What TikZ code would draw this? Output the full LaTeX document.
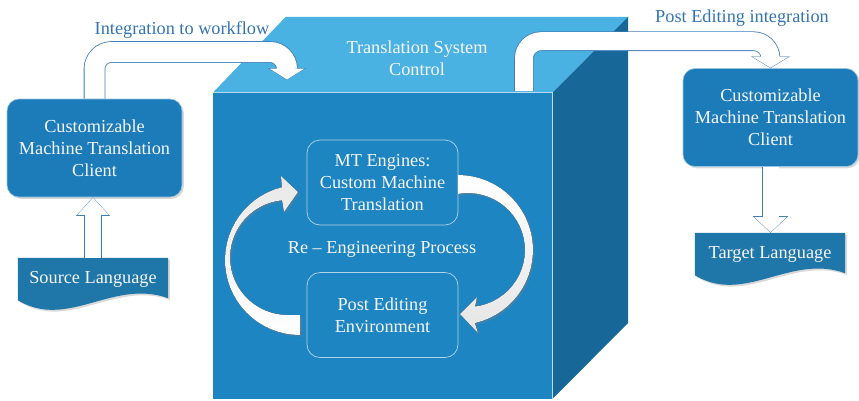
\documentclass[tikz,border=0pt]{standalone}
\usepackage{fontspec}
\setmainfont{Liberation Serif}
\usetikzlibrary{arrows.meta, calc, shadows, backgrounds}

\definecolor{cubefront}{RGB}{30,133,195}
\definecolor{cubetop}{RGB}{74,178,227}
\definecolor{cubeside}{RGB}{23,104,153}
\definecolor{clientblue}{RGB}{28,124,186}
\definecolor{docblue}{RGB}{31,118,169}
\definecolor{pipeedge}{RGB}{62,126,186}
\definecolor{labelblue}{RGB}{52,116,176}
\definecolor{paletext}{RGB}{246,246,246}

% one pixel of the drawing
\newdimen\dpx
\dpx=0.3mm

\tikzset{
  softshadow/.style={drop shadow={shadow xshift=1.5pt, shadow yshift=-1.5pt, opacity=0.3}},
  clientbox/.style={fill=clientblue, draw=white!55!clientblue, line width=0.5pt, rounded corners=12\dpx,
    minimum width=175\dpx, minimum height=98\dpx, align=center, text=paletext, softshadow},
  enginebox/.style={draw=white!65!cubefront, line width=0.6pt, rounded corners=13\dpx,
    minimum width=151\dpx, minimum height=85\dpx, align=center, text=paletext},
  doclabel/.style={minimum width=150\dpx, minimum height=42\dpx, text=paletext},
  toplabel/.style={text=labelblue},
  swirl/.style={softshadow},
  % hollow block arrow: shaft width (px), head width and head length as factors of the shaft
  pipe/.style n args={3}{
    preaction={draw=pipeedge, line width=#1\dpx+1.6\dpx, shorten >=0pt,
      -{Triangle[width=0pt #2, length=0pt #3, line width=0pt]}},
    draw=white, line width=#1\dpx, shorten >=0.5\dpx,
    -{Triangle[width=0pt #2, length=0pt #3, line width=0pt]}, rounded corners=17\dpx}
}

% document shape with a wavy bottom behind a node
\newcommand{\wavydoc}[1]{%
  \fill[docblue, softshadow]
    (#1.north west) -- (#1.north east) -- ([yshift=2\dpx]#1.south east)
    .. controls ($(#1.south east)+(-55,-22)$) and ($(#1.south west)+(50,30)$) .. (#1.south west)
    -- cycle;}

\begin{document}
\begin{tikzpicture}[x=\dpx, y=-\dpx, font=\fontsize{15.6}{18.8}\selectfont]
  \useasboundingbox (0,0) rectangle (859,400);

  % the cube
  \node[fill=cubefront, minimum width=339\dpx, minimum height=306\dpx, inner sep=0pt] (cube) at (382.5,246) {};
  \fill[cubetop] (cube.north west) -- ++(73,-76) -- ++(343,0) -- (cube.north east) -- cycle;
  \fill[cubeside] (cube.north east) -- ++(76,-76) -- ++(0,306) -- (cube.south east) -- cycle;
  \draw[white!70!cubefront, line width=0.5pt] (cube.north west) -- (cube.north east) -- (cube.south east);
  \node[text=paletext, align=center] (ctrl) at (417,58) {Translation System\\Control};

  % inside the cube
  \node[enginebox] (mtengine) at (382.5,182.5) {MT Engines:\\Custom Machine\\Translation};
  \node[enginebox] (postedit) at (382.5,315) {Post Editing\\Environment};
  \node[text=paletext] (reeng) at (382,249) {Re – Engineering Process};

  \fill[swirl, top color=gray!18, bottom color=white] (300,335)
    -- plot[domain=90:256, samples=30] ({300+75*cos(\x)}, {260+75*sin(\x)})
    -- (281,176) -- (298,192) -- (284,212) -- (282,200)
    -- plot[domain=265:90, samples=30] ({287.5+57.5*cos(\x)}, {257.5+57.5*sin(\x)})
    -- (300,315) -- cycle;
  \fill[swirl, top color=white, bottom color=gray!20] (458,175)
    -- plot[domain=-90:77, samples=30] ({458+75*cos(\x)}, {250+75*sin(\x)})
    -- (478,333) -- (460,314) -- (477,297) -- (475,306.6)
    -- plot[domain=83:-100, samples=30] ({468+57*cos(\x)}, {250+57*sin(\x)})
    -- cycle;

  % clients and languages
  \node[clientbox] (srcclient) at (94.5,148) {Customizable\\Machine Translation\\Client};
  \node[clientbox] (tgtclient) at (770.5,117.5) {Customizable\\Machine Translation\\Client};
  \node[doclabel] (srclang) at (93,279) {Source Language};
  \node[doclabel] (tgtlang) at (770,254) {Target Language};
  \begin{scope}[on background layer]
    \wavydoc{srclang}
    \wavydoc{tgtlang}
  \end{scope}

  % block arrows
  \coordinate (cubein) at (287,80);
  \coordinate (cubeout) at (524,91);
  \draw[pipe={20}{1.75}{0.55}] (srcclient.north) |- ($(cubein)+(0,-28)$) -- (cubein);
  \draw[pipe={18}{2.0}{0.61}] (cubeout) |- ($(tgtclient.north)+(0,-27)$) -- (tgtclient.north);
  \draw[pipe={16}{1.94}{1.06}] (srclang.north) -- (srclang.north |- srcclient.south);
  \draw[pipe={16}{2.0}{0.94}] (tgtclient.south) -- (tgtclient.south |- tgtlang.north);

  \node[toplabel] (intlabel) at (182,30) {Integration to workflow};
  \node[toplabel] (postlabel) at (742,18) {Post Editing integration};
\end{tikzpicture}
\end{document}
